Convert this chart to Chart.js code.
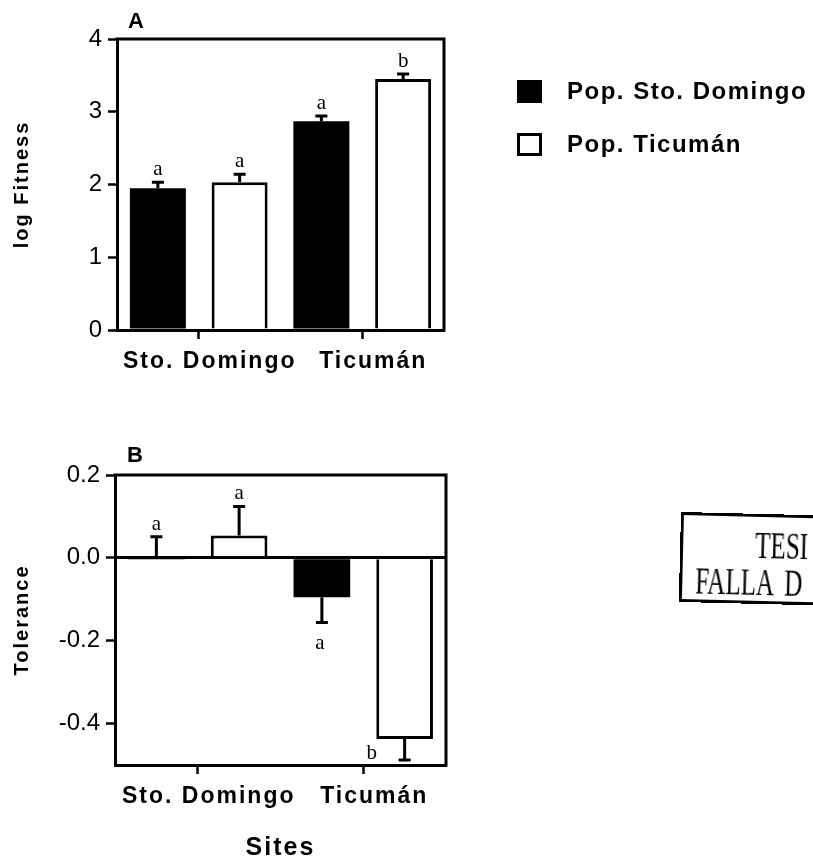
<!DOCTYPE html>
<html>
<head>
<meta charset="utf-8">
<script src="https://cdn.jsdelivr.net/npm/chart.js@4.4.0/dist/chart.umd.min.js"></script>
<style>
  html, body { margin: 0; padding: 0; background: #fff; }
  body { width: 813px; height: 861px; position: relative; overflow: hidden; }
  #wrapA { position: absolute; left: 0; top: 0; }
  #wrapB { position: absolute; left: 0; top: 430px; }
  .stamp {
    position: absolute; left: 681px; top: 512px; width: 200px; height: 84px;
    border: 3px solid #000; transform: rotate(1.4deg); transform-origin: left top;
    font-family: "Liberation Serif", "Times New Roman", serif; color: #000;
  }
  .stamp span { position: absolute; font-size: 38px; line-height: 38px; transform: scaleX(0.66); transform-origin: left top; white-space: pre; word-spacing: 8px; }
</style>
</head>
<body>
<div id="wrapA"><canvas id="chartA" width="813" height="420"></canvas></div>
<div id="wrapB"><canvas id="chartB" width="813" height="433"></canvas></div>
<div class="stamp"><span style="left:72px; top:9px;">TESI</span><span style="left:13px; top:46px;">FALLA D</span></div>
<script>
const sites = ['Sto. Domingo', 'Ticumán'];
const popLabels = ['Pop. Sto. Domingo', 'Pop. Ticumán'];

// panel A: log fitness
const fitSto = [1.95, 2.87];
const fitTic = [2.03, 3.45];
const fitErrSto = [0.08, 0.07];
const fitErrTic = [0.11, 0.07];
const fitLettersSto = ['a', 'a'];
const fitLettersTic = ['a', 'b'];
const fitTicks = [0, 1, 2, 3, 4];

// panel B: tolerance (error sign = direction of the bar)
const tolSto = [-0.004, -0.095];
const tolTic = [0.054, -0.437];
const tolErrSto = [0.055, -0.061];
const tolErrTic = [0.07, -0.051];
const tolLettersSto = ['a', 'a'];
const tolLettersTic = ['a', 'b'];
const tolTicks = [-0.4, -0.2, 0.0, 0.2];

const SANS = '"Liberation Sans", Arial, Helvetica, sans-serif';
const SERIF = '"Liberation Serif", "Times New Roman", serif';
Chart.defaults.color = '#000';
Chart.defaults.font.family = SANS;

/* ---------- plugins ---------- */
// wide tracking of the scanned lettering (titles, x labels); y numbers are drawn later without it
const spacing = {
  id: 'spacing',
  beforeDraw(chart) { chart.ctx.letterSpacing = '2px'; },
  afterDatasetsDraw(chart) { chart.ctx.letterSpacing = '0px'; },
  afterDraw(chart) { chart.ctx.letterSpacing = '0px'; }
};

const frame = {
  id: 'frame',
  afterDraw(chart) {
    const a = chart.chartArea, ctx = chart.ctx;
    ctx.save();
    ctx.strokeStyle = '#000';
    ctx.lineWidth = 3;
    ctx.beginPath();
    ctx.moveTo(a.left - 1.5, a.top);
    ctx.lineTo(a.right, a.top);
    ctx.lineTo(a.right, a.bottom + 1.5);
    ctx.stroke();
    ctx.restore();
  }
};

const errorBars = {
  id: 'errorBars',
  afterDatasetsDraw(chart) {
    const ctx = chart.ctx, y = chart.scales.y;
    ctx.save();
    ctx.letterSpacing = '0px';
    ctx.strokeStyle = '#000';
    ctx.fillStyle = '#000';
    ctx.lineWidth = 3;
    ctx.font = '21px ' + SERIF;
    ctx.textAlign = 'center';
    ctx.textBaseline = 'alphabetic';
    chart.data.datasets.forEach((ds, di) => {
      const meta = chart.getDatasetMeta(di);
      meta.data.forEach((bar, i) => {
        const endY = y.getPixelForValue(ds.data[i] + ds.errors[i]);
        const zero = y.getPixelForValue(0);
        const startY = ds.errors[i] > 0 ? Math.min(bar.y, zero) : Math.max(bar.y, zero);
        ctx.beginPath();
        ctx.moveTo(bar.x, startY);
        ctx.lineTo(bar.x, endY);
        ctx.moveTo(bar.x - 6, endY);
        ctx.lineTo(bar.x + 6, endY);
        ctx.stroke();
        const place = ds.letterPlace[i];
        if (place === 'above') ctx.fillText(ds.letters[i], bar.x, endY - 7);
        else if (place === 'below') ctx.fillText(ds.letters[i], bar.x - 2, endY + 27);
        else ctx.fillText(ds.letters[i], bar.x - 33, endY - 1);
      });
    });
    ctx.restore();
  }
};

const panelLabel = {
  id: 'panelLabel',
  afterDraw(chart, args, opts) {
    const ctx = chart.ctx;
    ctx.save();
    ctx.letterSpacing = '0px';
    ctx.font = 'bold 22px ' + SANS;
    ctx.textAlign = 'center';
    ctx.textBaseline = 'middle';
    ctx.fillStyle = '#000';
    ctx.fillText(opts.text, opts.x, opts.y);
    ctx.restore();
  }
};

const sideLegend = {
  id: 'sideLegend',
  afterDraw(chart, args, opts) {
    if (!opts.show) return;
    const ctx = chart.ctx;
    ctx.save();
    ctx.letterSpacing = '1.5px';
    ctx.font = 'bold 24px ' + SANS;
    ctx.textBaseline = 'middle';
    chart.data.datasets.forEach((ds, i) => {
      const x = 517, top = 80 + i * 53;
      ctx.fillStyle = ds.backgroundColor;
      ctx.fillRect(x, top, 25, 23);
      ctx.strokeStyle = '#000';
      ctx.lineWidth = 3;
      ctx.strokeRect(x + 1.5, top + 1.5, 22, 20);
      ctx.fillStyle = '#000';
      ctx.fillText(ds.label, 567, top + 12);
    });
    ctx.restore();
  }
};

/* ---------- chart builder ---------- */
function makeChart(id, cfg) {
  const yTicks = cfg.ticks;
  return new Chart(document.getElementById(id), {
    type: 'bar',
    data: {
      labels: sites,
      datasets: [
        { label: popLabels[0], data: cfg.sto, errors: cfg.errSto, letters: cfg.letSto, letterPlace: cfg.placeSto,
          backgroundColor: '#000', borderColor: '#000', borderWidth: 0 },
        { label: popLabels[1], data: cfg.tic, errors: cfg.errTic, letters: cfg.letTic, letterPlace: cfg.placeTic,
          backgroundColor: '#fff', borderColor: '#000', borderWidth: 3 }
      ]
    },
    options: {
      responsive: false,
      animation: false,
      events: [],
      categoryPercentage: 1.0,
      barPercentage: 0.685,
      layout: { padding: cfg.padding },
      plugins: {
        legend: { display: false },
        tooltip: { enabled: false },
        panelLabel: cfg.label,
        sideLegend: { show: cfg.legend }
      },
      scales: {
        x: {
          grid: { offset: false, drawOnChartArea: false, drawTicks: true, tickLength: 9, tickColor: '#000', tickWidth: 2.5 },
          border: { display: true, color: '#000', width: 3 },
          ticks: { font: { size: 23, weight: 'bold' }, padding: 9, labelOffset: 11, maxRotation: 0 },
          title: cfg.xTitle ? { display: true, text: cfg.xTitle, font: { size: 25, weight: 'bold' }, padding: { top: 0, bottom: 0 } } : { display: false },
          afterFit: s => { s.height = cfg.xHeight; }
        },
        y: {
          min: cfg.min, max: cfg.max,
          afterBuildTicks: s => { s.ticks = yTicks.map(v => ({ value: v })); },
          grid: {
            drawOnChartArea: true,
            color: c => (c.tick && c.tick.value === 0 && cfg.zeroLine) ? '#000' : 'rgba(0,0,0,0)',
            lineWidth: 3,
            tickLength: 9, tickColor: '#000', tickWidth: 2.5
          },
          border: { display: true, color: '#000', width: 3 },
          ticks: { font: { size: 24 }, padding: 6, callback: cfg.fmt, z: 1 },
          title: { display: true, text: cfg.yTitle, font: { size: 20, weight: 'bold' }, padding: { top: 10, bottom: 0 } },
          afterFit: s => { s.width = cfg.yWidth; }
        }
      }
    },
    plugins: [spacing, frame, errorBars, panelLabel, sideLegend]
  });
}

makeChart('chartA', {
  sto: fitSto, tic: fitTic, errSto: fitErrSto, errTic: fitErrTic,
  letSto: fitLettersSto, letTic: fitLettersTic,
  placeSto: ['above', 'above'], placeTic: ['above', 'above'],
  ticks: fitTicks, min: 0, max: 4, fmt: v => String(v),
  yTitle: 'log Fitness', xTitle: null,
  padding: { left: 0, top: 39, right: 369, bottom: 0 },
  yWidth: 117, xHeight: 90, zeroLine: false,
  label: { text: 'A', x: 136, y: 22 }, legend: true
});

makeChart('chartB', {
  sto: tolSto, tic: tolTic, errSto: tolErrSto, errTic: tolErrTic,
  letSto: tolLettersSto, letTic: tolLettersTic,
  placeSto: ['above', 'below'], placeTic: ['above', 'left'],
  ticks: tolTicks, min: -0.5, max: 0.2, fmt: v => v.toFixed(1),
  yTitle: 'Tolerance', xTitle: 'Sites',
  padding: { left: 0, top: 45, right: 367, bottom: 0 },
  yWidth: 115, xHeight: 98, zeroLine: true,
  label: { text: 'B', x: 135, y: 26 }, legend: false
});
</script>
</body>
</html>
